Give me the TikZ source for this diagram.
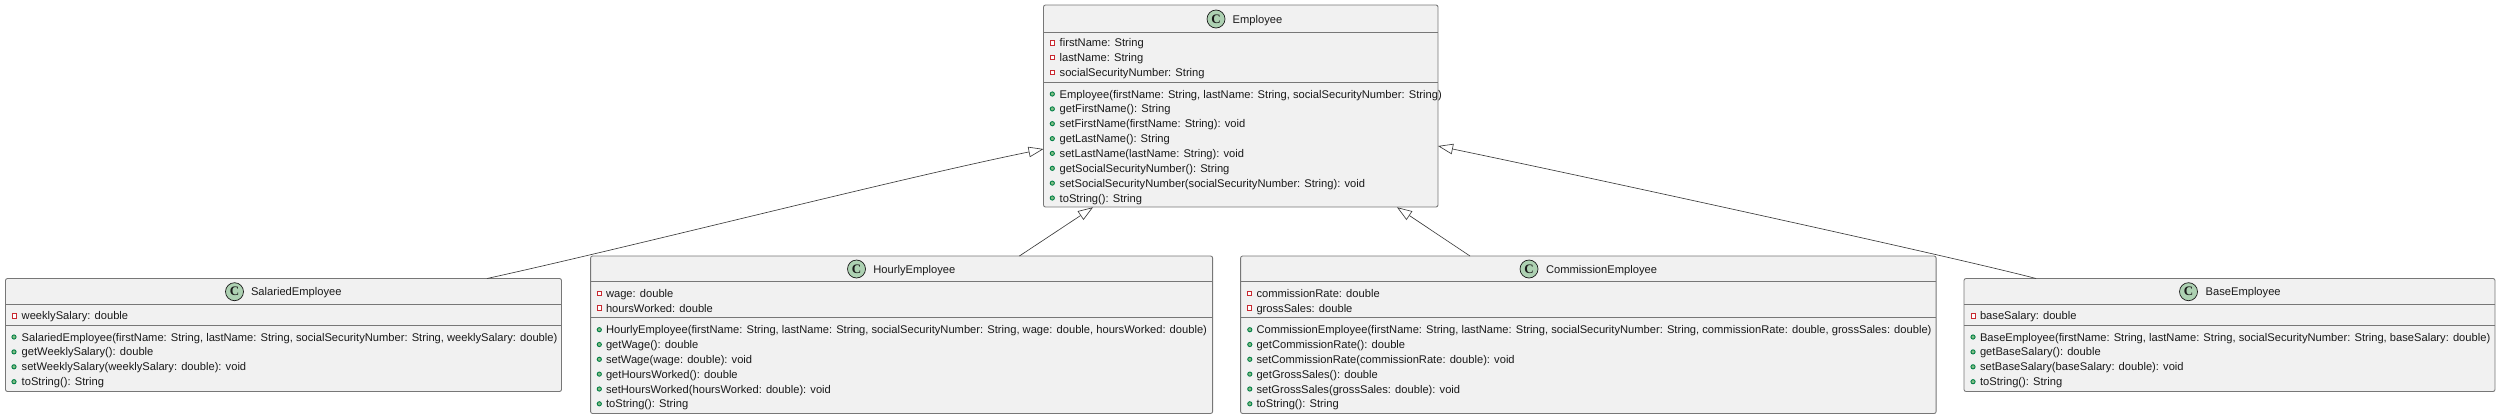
\documentclass[tikz,border=0pt]{standalone}
\usepackage{fontspec}
\setmainfont{Liberation Sans}
\newfontfamily\circfont{Liberation Serif}
\usetikzlibrary{arrows.meta,calc}
\definecolor{boxfill}{HTML}{F1F1F1}
\definecolor{boxline}{HTML}{777777}
\definecolor{classfill}{HTML}{ADD1B2}
\definecolor{privred}{HTML}{C82930}
\definecolor{publine}{HTML}{038048}
\definecolor{pubfill}{HTML}{84BE84}
\definecolor{inkc}{HTML}{1A1A1A}
\newcounter{rowno}
\tikzset{
  x=1pt,y=-1pt,
  classbox/.style={draw=boxline,fill=boxfill,line width=0.85pt,rounded corners=2pt,inner sep=0,outer sep=0,anchor=north west},
  sepline/.style={draw=boxline,line width=0.85pt},
  rowtext/.style={anchor=base west,inner sep=0,outer sep=0,text=inkc,font=\fontsize{11.16}{13}\selectfont},
  titletext/.style={rowtext},
  classmark/.style={circle,draw=inkc,fill=classfill,line width=0.7pt,minimum size=18pt,inner sep=0,outer sep=0,font=\circfont\bfseries\fontsize{13}{13}\selectfont,text=inkc},
  privmark/.style={rectangle,draw=privred,fill=white,line width=0.9pt,minimum width=4pt,minimum height=4.5pt,inner sep=0,outer sep=0},
  pubmark/.style={circle,draw=publine,fill=pubfill,line width=0.9pt,minimum size=4.2pt,inner sep=0,outer sep=0},
  inherit/.style={draw=inkc!85,line width=0.65pt,-{Triangle[open,fill=white,length=15pt,width=10.5pt]}},
}
% \classrow{mark style}{marker x}{text x}{y of text centre}{text}
\newcommand{\classrow}[5]{%
  \stepcounter{rowno}%
  \node[#1] (m\therowno) at (#2,#4) {};
  \node[rowtext] (t\therowno) at (#3,#4+4) {#5};
}
\newcommand{\classhead}[5]{% name, circle x, circle y, text x, title
  \node[classmark] (#1c) at (#2,#3) {C};
  \node[titletext] (#1t) at (#4,#3+4) {#5};
}
\begin{document}
\begin{tikzpicture}
\useasboundingbox (0,0) rectangle (2500,418);

% boxes
\node[classbox,minimum width=394.5pt,minimum height=202pt] (emp) at (1043.5,5) {};
\node[classbox,minimum width=556pt,minimum height=113pt] (sal) at (5.5,278.5) {};
\node[classbox,minimum width=622pt,minimum height=157.5pt] (hou) at (590.6,256) {};
\node[classbox,minimum width=695.5pt,minimum height=157.5pt] (com) at (1240.6,256) {};
\node[classbox,minimum width=531pt,minimum height=113pt] (bas) at (1964,278.5) {};

% separators
\draw[sepline] (emp.west |- 0,32) -- (emp.east |- 0,32);
\draw[sepline] (emp.west |- 0,82.3) -- (emp.east |- 0,82.3);
\draw[sepline] (sal.west |- 0,304.3) -- (sal.east |- 0,304.3);
\draw[sepline] (sal.west |- 0,325.3) -- (sal.east |- 0,325.3);
\draw[sepline] (hou.west |- 0,281.5) -- (hou.east |- 0,281.5);
\draw[sepline] (hou.west |- 0,317.3) -- (hou.east |- 0,317.3);
\draw[sepline] (com.west |- 0,281.5) -- (com.east |- 0,281.5);
\draw[sepline] (com.west |- 0,317.3) -- (com.east |- 0,317.3);
\draw[sepline] (bas.west |- 0,304.3) -- (bas.east |- 0,304.3);
\draw[sepline] (bas.west |- 0,325.3) -- (bas.east |- 0,325.3);

% Employee
\classhead{emp}{1216}{19}{1232.7}{Employee}
\classrow{privmark}{1052.3}{1059.7}{42.7}{firstName: String}
\classrow{privmark}{1052.3}{1059.7}{57.6}{lastName: String}
\classrow{privmark}{1052.3}{1059.7}{72.5}{socialSecurityNumber: String}
\classrow{pubmark}{1052.3}{1059.7}{94}{Employee(firstName: String, lastName: String, socialSecurityNumber: String)}
\classrow{pubmark}{1052.3}{1059.7}{108.9}{getFirstName(): String}
\classrow{pubmark}{1052.3}{1059.7}{123.7}{setFirstName(firstName: String): void}
\classrow{pubmark}{1052.3}{1059.7}{138.6}{getLastName(): String}
\classrow{pubmark}{1052.3}{1059.7}{153.4}{setLastName(lastName: String): void}
\classrow{pubmark}{1052.3}{1059.7}{168.3}{getSocialSecurityNumber(): String}
\classrow{pubmark}{1052.3}{1059.7}{183.1}{setSocialSecurityNumber(socialSecurityNumber: String): void}
\classrow{pubmark}{1052.3}{1059.7}{198}{toString(): String}

% SalariedEmployee
\classhead{sal}{234.5}{291.7}{251}{SalariedEmployee}
\classrow{privmark}{14}{21.7}{315.7}{weeklySalary: double}
\classrow{pubmark}{14}{21.7}{337}{SalariedEmployee(firstName: String, lastName: String, socialSecurityNumber: String, weeklySalary: double)}
\classrow{pubmark}{14}{21.7}{351.9}{getWeeklySalary(): double}
\classrow{pubmark}{14}{21.7}{366.8}{setWeeklySalary(weeklySalary: double): void}
\classrow{pubmark}{14}{21.7}{381.7}{toString(): String}

% HourlyEmployee
\classhead{hou}{856.5}{269}{873.4}{HourlyEmployee}
\classrow{privmark}{599.3}{606}{293.3}{wage: double}
\classrow{privmark}{599.3}{606}{308.1}{hoursWorked: double}
\classrow{pubmark}{599.3}{606}{329.7}{HourlyEmployee(firstName: String, lastName: String, socialSecurityNumber: String, wage: double, hoursWorked: double)}
\classrow{pubmark}{599.3}{606}{344.5}{getWage(): double}
\classrow{pubmark}{599.3}{606}{359.3}{setWage(wage: double): void}
\classrow{pubmark}{599.3}{606}{374.1}{getHoursWorked(): double}
\classrow{pubmark}{599.3}{606}{389}{setHoursWorked(hoursWorked: double): void}
\classrow{pubmark}{599.3}{606}{403.8}{toString(): String}

% CommissionEmployee
\classhead{com}{1529}{269}{1546}{CommissionEmployee}
\classrow{privmark}{1249.8}{1256.5}{293.3}{commissionRate: double}
\classrow{privmark}{1249.8}{1256.5}{308.1}{grossSales: double}
\classrow{pubmark}{1249.8}{1256.5}{329.7}{CommissionEmployee(firstName: String, lastName: String, socialSecurityNumber: String, commissionRate: double, grossSales: double)}
\classrow{pubmark}{1249.8}{1256.5}{344.5}{getCommissionRate(): double}
\classrow{pubmark}{1249.8}{1256.5}{359.3}{setCommissionRate(commissionRate: double): void}
\classrow{pubmark}{1249.8}{1256.5}{374.1}{getGrossSales(): double}
\classrow{pubmark}{1249.8}{1256.5}{389}{setGrossSales(grossSales: double): void}
\classrow{pubmark}{1249.8}{1256.5}{403.8}{toString(): String}

% BaseEmployee
\classhead{bas}{2188.5}{291.7}{2205.6}{BaseEmployee}
\classrow{privmark}{1973}{1980}{315.7}{baseSalary: double}
\classrow{pubmark}{1973}{1980}{337}{BaseEmployee(firstName: String, lastName: String, socialSecurityNumber: String, baseSalary: double)}
\classrow{pubmark}{1973}{1980}{351.9}{getBaseSalary(): double}
\classrow{pubmark}{1973}{1980}{366.8}{setBaseSalary(baseSalary: double): void}
\classrow{pubmark}{1973}{1980}{381.7}{toString(): String}

% inheritance
\draw[inherit] ($(sal.north west)+(481.5,0)$) .. controls ++(150,-33) and ++(-143,29) .. (emp.west |- 0,149);
\draw[inherit] ($(hou.north west)+(428.8,0)$) -- ($(emp.south west)+(49.5,0.3)$);
\draw[inherit] ($(com.north west)+(229.4,0)$) -- ($(emp.south east)+(-41,0.3)$);
\draw[inherit] ($(bas.north west)+(72,0)$) .. controls ++(-88,-23) and ++(145,30) .. (emp.east |- 0,146);
\end{tikzpicture}
\end{document}
